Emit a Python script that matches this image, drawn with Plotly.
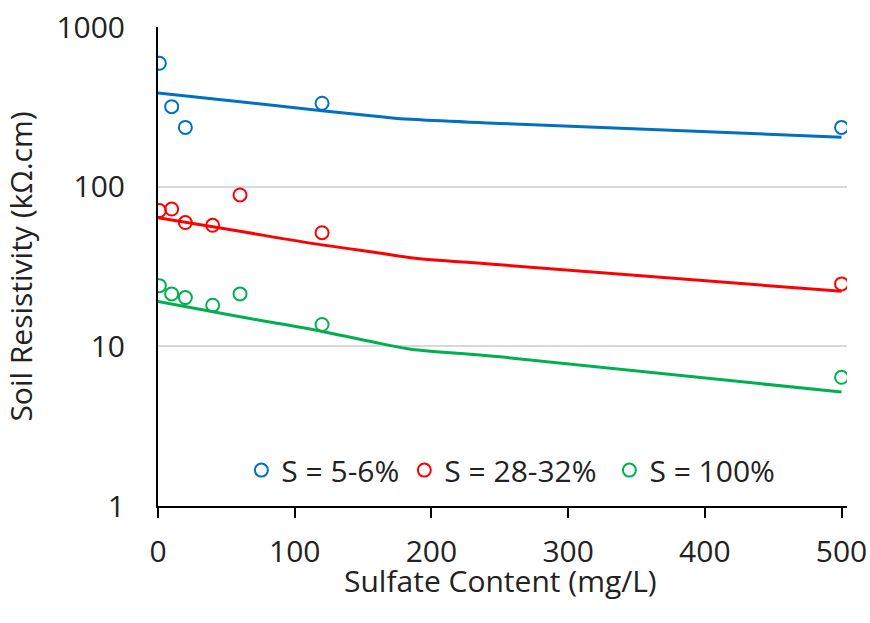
import plotly.graph_objects as go

# Measured data (sulfate content mg/L vs soil resistivity kOhm.cm)
x_blue = [1, 10, 20, 120, 500]
blue_pts = [593, 317, 235, 333, 235]
x_rg = [1, 10, 20, 40, 60, 120, 500]
red_pts = [70.8, 72.4, 59.6, 57.3, 88.7, 51.5, 24.6]
green_pts = [24.0, 21.3, 20.2, 18.1, 21.3, 13.7, 6.4]

# Fitted curves
x_fit = [0, 60, 120, 163, 185, 250, 500]
blue_fit = [386, 340, 299, 274, 264, 249, 204]
red_fit = [64, 52.5, 43.2, 38.3, 35.9, 32.4, 22.1]
green_fit = [19.1, 15.3, 12.4, 10.4, 9.6, 8.6, 5.17]

names = ["S = 5-6%", "S = 28-32%\u00a0", "S = 100%"]
colors = ["#0070C0", "#FF0000", "#00B050"]
x_ticks = [0, 100, 200, 300, 400, 500]
y_ticks = [1, 10, 100, 1000]
y_ticktext = ["1", "10", "100", "1000"]

FONT = "Open Sans"
TXT = "#222222"

fig = go.Figure()
for yf, c in zip([blue_fit, red_fit, green_fit], colors):
    fig.add_trace(go.Scatter(x=x_fit, y=yf, mode="lines",
                             line=dict(color=c, width=3, shape="spline", smoothing=1.0),
                             showlegend=False, hoverinfo="skip"))
for xs, ys, c, n in [(x_blue, blue_pts, colors[0], names[0]),
                     (x_rg, red_pts, colors[1], names[1]),
                     (x_rg, green_pts, colors[2], names[2])]:
    fig.add_trace(go.Scatter(x=xs, y=ys, mode="markers", name=n,
                             marker=dict(symbol="circle-open", size=13, color=c,
                                         line=dict(width=2, color=c))))

fig.update_layout(
    width=870, height=623,
    margin=dict(l=158, r=23, t=27, b=117, autoexpand=False),
    paper_bgcolor="white", plot_bgcolor="white",
    font=dict(family=FONT, size=30, color=TXT),
    legend=dict(orientation="h", x=0.121, xanchor="left", y=0.075, yanchor="middle",
                font=dict(size=30, color=TXT), bgcolor="rgba(0,0,0,0)",
                itemwidth=30, tracegroupgap=0),
)
fig.add_annotation(text="Sulfate Content (mg/L)", xref="paper", yref="paper",
                   x=0.497, y=0, xanchor="center", yanchor="top", yshift=-52,
                   showarrow=False, font=dict(size=30, color=TXT))
fig.update_xaxes(range=[0, 504], tickvals=x_ticks, showgrid=False, automargin=False,
                 showline=True, linecolor="black", linewidth=2, ticks="outside", ticklen=10,
                 tickwidth=2, tickcolor="black", zeroline=False, ticklabelstandoff=8,
                 ticklabeloverflow="allow", tickfont=dict(size=30, color=TXT))
fig.update_yaxes(type="log", range=[0, 3], tickvals=y_ticks, ticktext=y_ticktext,
                 showgrid=True, gridcolor="#D9D9D9", gridwidth=2, automargin=False,
                 showline=True, linecolor="black", linewidth=2, ticks="outside", ticklen=25,
                 tickcolor="rgba(0,0,0,0)", zeroline=False, ticklabeloverflow="allow",
                 title=dict(text="Soil Resistivity (kΩ.cm)", standoff=17, font=dict(size=30, color=TXT)),
                 tickfont=dict(size=30, color=TXT))

fig.write_html("out.html", config={"displayModeBar": False},
               post_script="document.body.style.margin='0';document.body.style.overflow='hidden';")
